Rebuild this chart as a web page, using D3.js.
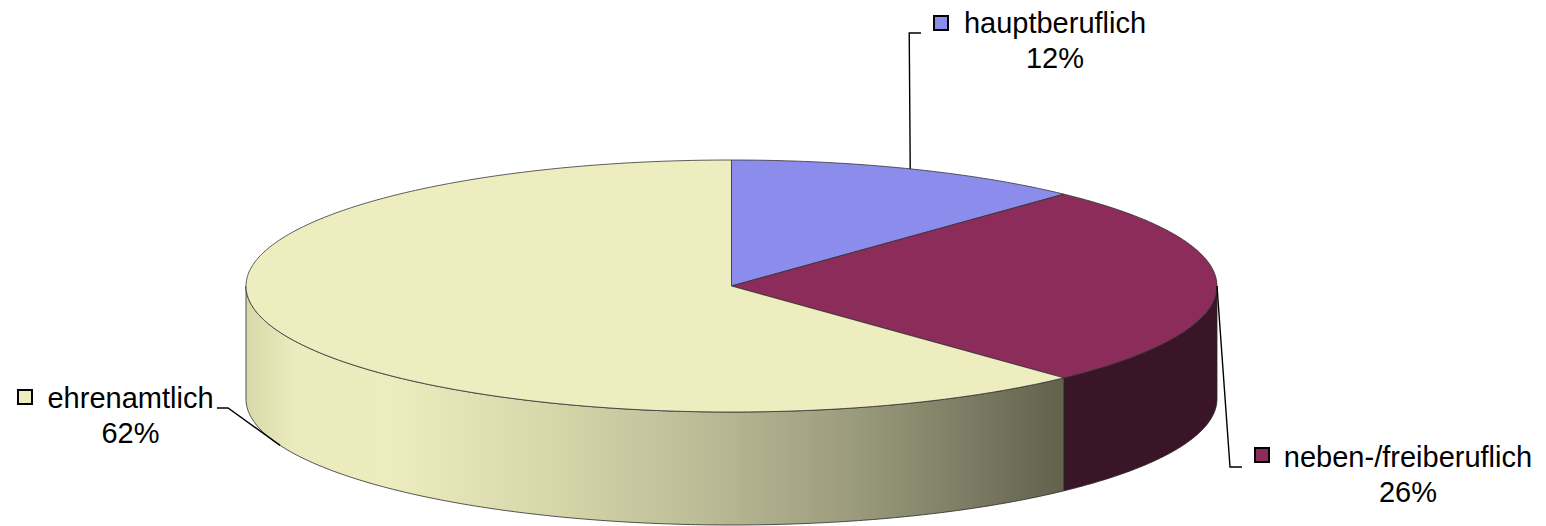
<!DOCTYPE html>
<html>
<head>
<meta charset="utf-8">
<script src="https://cdn.jsdelivr.net/npm/d3@7"></script>
<style>
  body { margin: 0; background: #fff; }
  svg { display: block; font-family: "Liberation Sans", Arial, sans-serif; }
</style>
</head>
<body>
<svg id="chart" width="1546" height="526"></svg>
<script>
// data
var categories = ["hauptberuflich", "neben-/freiberuflich", "ehrenamtlich"];
var shares = [12, 26, 62];
var labels = ["12%", "26%", "62%"];
var topColors = ["#8c8ced", "#8b2c5b", "#ededc0"];
var sideColors = ["#4a4a80", "#3a1527", "url(#sideYellow)"];

var svg = d3.select("#chart"),
    cx = 731.5, cy = 286,
    rx = 485.5, ry = 126,
    depth = 113;

var defs = svg.append("defs");
var grad = defs.append("linearGradient")
  .attr("id", "sideYellow")
  .attr("gradientUnits", "userSpaceOnUse")
  .attr("x1", cx - rx).attr("x2", 1060).attr("y1", 0).attr("y2", 0);
[[0, "#d8d8a8"], [0.06, "#ebebbe"], [0.18, "#ececbf"], [0.38, "#d6d6aa"],
 [0.55, "#bdbd98"], [0.72, "#a0a081"], [0.88, "#7e7e66"], [1, "#62624d"]]
  .forEach(function(s) {
    grad.append("stop").attr("offset", s[0]).attr("stop-color", s[1]);
  });

var pie = d3.pie().sort(null).value(function(d) { return d; });
var arcs = pie(shares);

// point on ellipse, angle clockwise from 12 o'clock
function pt(a, dy) {
  return [cx + rx * Math.sin(a), cy - ry * Math.cos(a) + (dy || 0)];
}

function arcPoints(a0, a1, dy) {
  var n = Math.max(2, Math.ceil(Math.abs(a1 - a0) / 0.01));
  return d3.range(n + 1).map(function(i) {
    return pt(a0 + (a1 - a0) * i / n, dy);
  });
}

var line = d3.line();

// sides (only the front half, angles between pi/2 and 3pi/2)
var sides = svg.append("g");
arcs.forEach(function(d, i) {
  var a0 = Math.max(d.startAngle, Math.PI / 2),
      a1 = Math.min(d.endAngle, Math.PI * 1.5);
  if (a1 <= a0) return;
  var top = arcPoints(a0, a1, 0),
      bottom = arcPoints(a1, a0, depth);
  sides.append("path")
    .attr("d", line(top.concat(bottom)) + "Z")
    .attr("fill", sideColors[i])
    .attr("stroke", "#2a2a2a")
    .attr("stroke-width", 0.8);
});

// top face
var tops = svg.append("g");
arcs.forEach(function(d, i) {
  var pts = [[cx, cy]].concat(arcPoints(d.startAngle, d.endAngle, 0));
  tops.append("path")
    .attr("d", line(pts) + "Z")
    .attr("fill", topColors[i])
    .attr("stroke", "#333")
    .attr("stroke-width", 0.8)
    .attr("stroke-linejoin", "round");
});

// labels with leader lines
var labelPos = [
  { sq: [934, 16], tx: 1055, ty: 33, corner: [921, 33], onBottom: false },
  { sq: [1255, 448], tx: 1408, ty: 467, corner: [1242, 467], onBottom: false },
  { sq: [18, 390], tx: 130.5, ty: 408, corner: [217, 408], onBottom: true }
];

var lbl = svg.append("g");
arcs.forEach(function(d, i) {
  var p = labelPos[i];
  var mid = (d.startAngle + d.endAngle) / 2;
  var anchor = pt(mid, p.onBottom ? depth : 0);
  var bend;
  if (i === 0) bend = [anchor[0] - 1, p.corner[1]];
  else if (i === 1) bend = [anchor[0] + 13, p.corner[1]];
  else bend = [p.corner[0] + 11, p.corner[1]];
  lbl.append("path")
    .attr("d", line([anchor, bend, p.corner]))
    .attr("fill", "none")
    .attr("stroke", "#000")
    .attr("stroke-width", 1.4);

  lbl.append("rect")
    .attr("x", p.sq[0]).attr("y", p.sq[1])
    .attr("width", 14).attr("height", 14)
    .attr("fill", topColors[i])
    .attr("stroke", "#000")
    .attr("stroke-width", 2);

  var t = lbl.append("text")
    .attr("text-anchor", "middle")
    .attr("font-size", 29)
    .attr("fill", "#000");
  t.append("tspan").attr("x", p.tx).attr("y", p.ty).text(categories[i]);
  t.append("tspan").attr("x", p.tx).attr("y", p.ty + 35).text(labels[i]);
});
</script>
</body>
</html>
